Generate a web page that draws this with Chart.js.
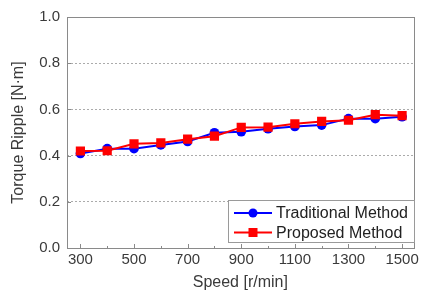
<!DOCTYPE html>
<html><head><meta charset="utf-8">
<script src="https://cdn.jsdelivr.net/npm/chart.js@4"></script>
<style>html,body{margin:0;padding:0;background:#fff}#wrap{width:422px;height:291px}</style>
</head><body><div id="wrap"><canvas id="c" width="422" height="291"></canvas></div>
<script>
const speeds = [300,400,500,600,700,800,900,1000,1100,1200,1300,1400,1500];
const traditional = [0.409,0.430,0.430,0.446,0.461,0.499,0.503,0.516,0.526,0.532,0.560,0.560,0.568];
const proposed = [0.420,0.421,0.451,0.455,0.471,0.484,0.522,0.523,0.538,0.548,0.553,0.577,0.573];
const xMajorTicks = [300,500,700,900,1100,1300,1500];
const xMinorTicks = [400,600,800,1000,1200,1400];
const yTicks = [0,0.2,0.4,0.6,0.8,1.0];
const seriesNames = ['Traditional Method','Proposed Method'];

const FONT = 'Liberation Sans, Arial, sans-serif';
const TXT = '#3a3a3a';
const AXIS = '#8a8a8a';

const framePlugin = {
  id:'frame',
  afterDatasetsDraw(chart){
    const {ctx, chartArea:a, scales:{x,y}} = chart;
    ctx.save();
    ctx.setLineDash([]);
    ctx.strokeStyle = AXIS; ctx.lineWidth = 1;
    ctx.strokeRect(Math.round(a.left)+0.5, Math.round(a.top)+0.5, Math.round(a.right-a.left), Math.round(a.bottom-a.top));
    ctx.beginPath();
    xMajorTicks.forEach(v=>{const px=Math.round(x.getPixelForValue(v))+0.5; ctx.moveTo(px,a.bottom); ctx.lineTo(px,a.bottom-4);});
    xMinorTicks.forEach(v=>{const px=Math.round(x.getPixelForValue(v))+0.5; ctx.moveTo(px,a.bottom); ctx.lineTo(px,a.bottom-2);});
    yTicks.forEach(v=>{const py=Math.round(y.getPixelForValue(v))+0.5; ctx.moveTo(a.left,py); ctx.lineTo(a.left+4,py);});
    ctx.stroke();
    // legend box
    const bx=228, by=200, bw=186, bh=42;
    ctx.fillStyle='#fff'; ctx.fillRect(bx,by,bw,bh);
    ctx.strokeStyle='#9a9a9a'; ctx.strokeRect(bx+0.5,by+0.5,bw,bh);
    chart.data.datasets.forEach((ds,i)=>{
      const ly = by + 13 + i*19.5;
      ctx.strokeStyle = ds.borderColor; ctx.lineWidth=2;
      ctx.beginPath(); ctx.moveTo(234,ly); ctx.lineTo(272,ly); ctx.stroke();
      ctx.fillStyle = ds.backgroundColor;
      if (ds.pointStyle==='rect'){ ctx.fillRect(253-4.5,ly-4.5,9,9); }
      else { ctx.beginPath(); ctx.arc(253,ly,4.5,0,Math.PI*2); ctx.fill(); }
      ctx.fillStyle = '#222'; ctx.font = '16px '+FONT; ctx.textBaseline='middle'; ctx.textAlign='left';
      ctx.fillText(ds.label, 276, ly+1);
    });
    ctx.restore();
  }
};

new Chart(document.getElementById('c'), {
  type:'line',
  data:{
    datasets:[
      {label:seriesNames[0], data:speeds.map((s,i)=>({x:s,y:traditional[i]})), borderColor:'#0000ff', backgroundColor:'#0000ff', borderWidth:2, pointStyle:'circle', pointRadius:4.8, pointBorderWidth:0, order:1},
      {label:seriesNames[1], data:speeds.map((s,i)=>({x:s,y:proposed[i]})), borderColor:'#ff0000', backgroundColor:'#ff0000', borderWidth:2, pointStyle:'rect', pointRadius:6.5, pointBorderWidth:0, order:0}
    ]
  },
  options:{
    responsive:false, animation:false, devicePixelRatio:1,
    layout:{padding:{left:0,right:7,top:17,bottom:0}},
    plugins:{legend:{display:false}, tooltip:{enabled:false}},
    scales:{
      x:{type:'linear', min:250, max:1543,
        afterBuildTicks(s){ s.ticks = xMajorTicks.map(v=>({value:v})); },
        afterFit(s){ s.height = 43; },
        border:{display:false},
        grid:{display:false, drawTicks:false},
        ticks:{padding:3, color:TXT, font:{family:FONT,size:15}, maxRotation:0, autoSkip:false, callback:(v)=>String(v)},
        title:{display:true, text:'Speed [r/min]', color:TXT, font:{family:FONT,size:16,lineHeight:1}, padding:{top:0,bottom:0}}
      },
      y:{type:'linear', min:0, max:1,
        afterBuildTicks(s){ s.ticks = yTicks.map(v=>({value:v})); },
        afterFit(s){ s.width = 67; },
        border:{display:false, dash:[2,2]},
        grid:{drawTicks:false, color:(c)=> (c.tick && (c.tick.value===0||c.tick.value===1)) ? 'rgba(0,0,0,0)' : '#ababab', lineWidth:1},
        ticks:{padding:7, color:TXT, font:{family:FONT,size:15}, callback:(v)=>v.toFixed(1)},
        title:{display:true, text:'Torque Ripple [N·m]', color:TXT, font:{family:FONT,size:16,lineHeight:1}, padding:{top:11,bottom:0}}
      }
    }
  },
  plugins:[framePlugin]
});
</script></body></html>
